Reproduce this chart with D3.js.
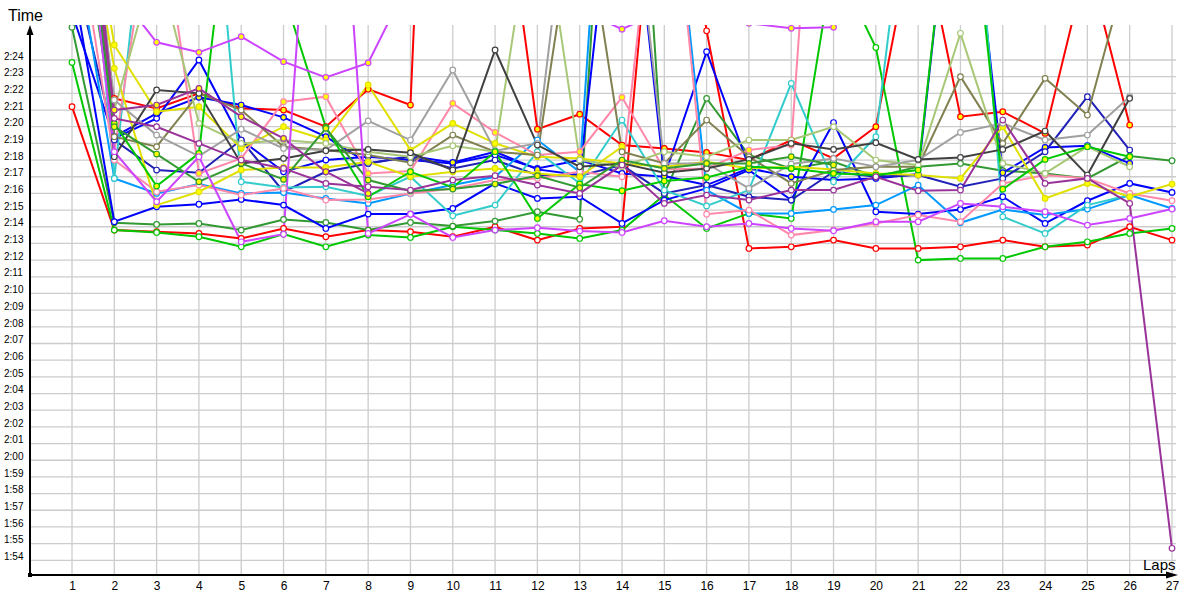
<!DOCTYPE html>
<html>
<head>
<meta charset="utf-8">
<script src="https://cdn.jsdelivr.net/npm/d3@7"></script>
<style>
  body { margin: 0; background: #fff; }
  svg { display: block; font-family: "Liberation Sans", Arial, sans-serif; }
  .grid line { stroke: #cccccc; stroke-width: 1.3; }
  .ylab { font-size: 10px; fill: #000; }
  .xlab { font-size: 12px; fill: #000; }
</style>
</head>
<body>
<svg width="1200" height="600"></svg>
<script>
// lap numbers and time ticks (seconds, 1:54 .. 2:24)
let laps = d3.range(1, 28);
let timeTicks = [114,115,116,117,118,119,120,121,122,123,124,125,126,127,128,129,130,131,132,133,134,135,136,137,138,139,140,141,142,143,144];
let timeLabels = ["1:54","1:55","1:56","1:57","1:58","1:59","2:00","2:01","2:02","2:03","2:04","2:05","2:06","2:07","2:08","2:09","2:10","2:11","2:12","2:13","2:14","2:15","2:16","2:17","2:18","2:19","2:20","2:21","2:22","2:23","2:24"];

// lap times in seconds, one per lap (null = no lap)
let red1 = [141.2,133.8,133.7,133.6,133.3,133.9,133.4,133.8,133.7,133.4,134.0,133.2,133.9,134.0,162,145.75,132.7,132.8,133.2,132.7,132.7,132.8,133.2,132.8,132.9,134.0,133.2];
let red2 = [155,141.7,141.1,142.0,141.1,141.0,140.0,142.25,141.3,200,158.6,139.85,140.75,138.9,138.7,138.46,138.0,139.2,138.1,140.0,153,140.6,140.9,139.6,150,140.1,null];
let green1 = [143.85,133.8,133.66,133.4,132.8,133.56,132.8,133.5,133.36,134.0,133.8,133.6,133.3,133.8,135.9,133.9,134.8,134.5,150,144.75,132.0,132.1,132.1,132.8,133.1,133.6,133.9];
let dkgreen1 = [145.96,134.24,134.14,134.2,133.8,134.44,134.26,133.8,134.26,134.04,134.34,134.9,134.45,175,136.0,141.7,138.3,137.5,137.9,137.0,137.6,137.8,137.36,137.2,136.9,138.24,137.96];
let blue1 = [149,134.3,135.2,135.35,135.64,135.3,133.9,134.76,134.76,135.1,136.6,135.7,135.8,134.2,135.6,136.3,137.4,135.6,140.25,134.9,134.76,135.04,135.8,134.2,135.56,136.6,136.06];
let blue2 = [146.8,139.3,140.5,144.0,139.2,137.3,138.0,138.2,138.0,137.8,138.3,137.5,138.0,137.2,137.0,144.5,137.6,null,null,null,null,null,null,null,null,null,null];
let blueY = [160,139.4,140.8,141.76,141.3,140.56,139.4,137.8,138.24,137.86,138.5,137.44,137.1,160,137.04,136.5,137.5,137.0,136.8,136.9,137.16,160,137.24,138.76,138.86,137.8,null];
let dkblue1 = [150,139.2,137.4,137.24,139.2,136.1,137.3,137.8,138.2,137.5,138.0,137.1,137.06,137.7,136.0,136.5,135.8,135.6,137.3,137.0,137.1,136.4,136.9,138.5,141.8,138.6,null];
let ltblue1 = [152,136.9,136.0,136.56,136.0,136.05,135.7,135.4,136.0,136.5,137.0,139.2,137.3,175,160,136.2,134.8,134.8,135.04,135.3,136.5,134.24,135.04,134.7,135.06,135.9,135.1];
let teal1 = [165,136.9,160,165,136.7,136.36,136.4,135.85,137.0,134.66,135.3,138.5,136.6,140.4,136.2,135.25,136.2,142.6,136.7,139.4,160,165,134.6,133.6,135.3,135.9,null];
let pink1 = [154,138.0,136.1,136.5,135.9,136.3,135.6,135.64,136.0,136.3,136.8,136.9,137.3,137.0,160,134.75,135.0,133.5,133.8,134.2,134.7,134.3,136.6,137.1,136.9,136.0,135.56];
let pinkY = [160,138.5,155,137.2,138.1,141.5,141.8,137.2,137.34,141.4,139.66,138.3,138.5,141.76,137.44,137.5,138.6,138.9,175,null,null,null,null,null,null,null,null];
let yellow1 = [160,144.9,140.9,141.2,138.7,140.0,139.2,142.5,138.6,140.2,139.0,138.2,138.1,137.8,137.6,137.9,137.5,137.6,137.44,137.2,137.1,136.9,140.0,135.7,136.6,135.8,136.56];
let yellow2 = [158,143.5,135.3,136.1,137.4,137.56,137.56,137.9,137.0,137.3,137.5,137.2,137.0,138.8,null,null,null,null,null,null,null,null,null,null,null,null,null];
let olive1 = [165,139.4,138.8,142.0,141.0,138.8,138.6,138.3,137.84,139.5,138.5,138.3,155,138.5,137.8,140.4,138.2,136.6,137.4,137.6,137.6,143.0,139.0,142.9,140.7,150,null];
let ltolive1 = [165,141.0,150,140.2,139.0,139.2,139.0,138.5,138.2,138.86,138.5,155,138.0,137.6,138.5,138.2,139.2,139.2,140.0,138.0,137.7,145.6,137.8,137.2,138.8,137.6,null];
let gray1 = [162,141.6,139.5,138.24,139.85,138.7,138.6,140.35,139.2,143.4,138.56,139.0,160,160,137.8,137.8,136.3,137.76,138.1,137.6,138.0,139.66,140.2,139.2,139.5,141.8,null];
let dkgray1 = [165,138.2,142.2,142.0,137.8,138.1,138.56,138.64,138.44,137.4,144.6,138.9,137.6,137.8,137.24,137.5,138.04,139.0,138.64,139.04,138.04,138.16,138.64,139.74,137.1,141.7,null];
let greenY = [156,140.2,136.44,138.4,160,148,139.96,135.8,137.3,136.36,138.5,134.5,136.56,136.16,136.74,136.96,137.6,137.5,137.2,137.1,137.4,160,136.25,138.04,138.8,138.2,null];
let dkgreenY = [160,140.0,138.36,136.7,137.8,136.84,139.9,136.8,136.14,136.26,136.56,137.06,136.34,138.0,137.5,137.8,137.8,138.2,137.7,null,null,null,null,null,null,null,null];
let purple1 = [165,140.5,140.0,139.0,138.0,137.5,136.6,136.4,136.2,136.8,137.06,136.5,136.0,137.7,135.4,135.9,135.6,136.2,136.2,137.0,136.16,136.2,140.4,136.6,136.9,135.4,114.72];
let purpleY = [160,141.0,141.3,142.3,140.6,139.3,137.3,136.0,null,null,null,null,null,null,null,null,null,null,null,null,null,null,null,null,null,null,null];
let violetY = [null,148.3,145.06,144.46,145.4,143.9,142.96,143.83,148.9,147.5,147,147.5,147,145.85,147,147,146.2,145.9,145.96,null,null,null,null,null,null,null,null];
let violet1 = [160,138.5,135.5,138.2,133.1,133.55,170,133.6,134.75,133.36,133.8,133.94,133.74,133.66,134.36,134.0,134.2,133.9,133.76,134.3,134.3,135.4,135.2,134.9,134.1,134.5,135.06];

// series: data, line colour, marker fill
let series = [
  [red1, "#ff0000", "#fff"], [red2, "#ff0000", "#ffff00"],
  [green1, "#00c800", "#fff"], [dkgreen1, "#339933", "#fff"],
  [blue1, "#0000ff", "#fff"], [blue2, "#0000ff", "#fff"], [blueY, "#0000ff", "#ffff00"],
  [dkblue1, "#2020b8", "#fff"], [ltblue1, "#0099ff", "#fff"], [teal1, "#33cccc", "#fff"],
  [pink1, "#ff88aa", "#fff"], [pinkY, "#ff88aa", "#ffff00"],
  [yellow1, "#e0e000", "#ffff00"], [yellow2, "#e0e000", "#ffff00"],
  [olive1, "#808050", "#fff"], [ltolive1, "#a8c878", "#fff"],
  [gray1, "#a0a0a0", "#fff"], [dkgray1, "#404040", "#fff"],
  [greenY, "#00c800", "#ffff00"], [dkgreenY, "#339933", "#ffff00"],
  [purple1, "#993399", "#fff"], [purpleY, "#993399", "#ffff00"],
  [violetY, "#cc44ff", "#ffff00"], [violet1, "#cc44ff", "#fff"]
];

let svg = d3.select("svg");
let plotLeft = 30, plotRight = 1178, plotTop = 25, plotBottom = 575;

let xScale = d3.scaleLinear().domain([1, 27]).range([72, 1172]);
let yScale = d3.scaleLinear().domain([114, 144]).range([560.3, 60]);

// grid
let grid = svg.append("g").attr("class", "grid");
grid.selectAll(".h").data(timeTicks).enter().append("line")
    .attr("x1", plotLeft).attr("x2", 1176)
    .attr("y1", d => yScale(d)).attr("y2", d => yScale(d));
grid.selectAll(".v").data(laps).enter().append("line")
    .attr("x1", d => xScale(d)).attr("x2", d => xScale(d))
    .attr("y1", plotTop).attr("y2", plotBottom);

// axes with labels
let y_axis = d3.axisLeft(yScale).tickValues(timeTicks)
    .tickFormat((d, i) => timeLabels[i]).tickSize(0).tickPadding(8);
let yg = svg.append("g").attr("transform", "translate(" + plotLeft + ",-4)").call(y_axis);
yg.select(".domain").remove();
yg.selectAll("text").attr("class", "ylab").attr("text-anchor", "start").attr("x", -26)
    .attr("font-family", "Liberation Sans, Arial, sans-serif");

let x_axis = d3.axisBottom(xScale).tickValues(laps).tickFormat(d3.format("d")).tickSize(0).tickPadding(6);
let xg = svg.append("g").attr("transform", "translate(0," + plotBottom + ")").call(x_axis);
xg.select(".domain").remove();
xg.selectAll("text").attr("class", "xlab").attr("font-family", "Liberation Sans, Arial, sans-serif");

// clip for the plot
svg.append("clipPath").attr("id", "plot").append("rect")
    .attr("x", plotLeft).attr("y", plotTop).attr("width", plotRight - plotLeft).attr("height", plotBottom - plotTop);

let lineGen = d3.line()
    .defined(d => d != null)
    .x((d, i) => xScale(laps[i]))
    .y(d => yScale(d));

let plot = svg.append("g").attr("clip-path", "url(#plot)");
series.forEach(function(s) {
    plot.append("path")
        .attr("d", lineGen(s[0]))
        .attr("fill", "none")
        .attr("stroke", s[1])
        .attr("stroke-width", 2);
});
series.forEach(function(s) {
    plot.selectAll(null).data(s[0].map((v, i) => [laps[i], v]).filter(p => p[1] != null))
        .enter().append("circle")
        .attr("cx", p => xScale(p[0]))
        .attr("cy", p => yScale(p[1]))
        .attr("r", 2.8)
        .attr("fill", s[2])
        .attr("stroke", s[1])
        .attr("stroke-width", 1.2);
});

// axis lines and arrows
svg.append("line").attr("x1", plotLeft).attr("x2", plotLeft).attr("y1", plotBottom).attr("y2", plotTop + 8)
    .attr("stroke", "#000").attr("stroke-width", 2);
svg.append("path").attr("d", "M" + (plotLeft - 3.5) + "," + (plotTop + 10) + "L" + plotLeft + "," + plotTop + "L" + (plotLeft + 3.5) + "," + (plotTop + 10) + "Z")
    .attr("fill", "#000");
svg.append("line").attr("x1", plotLeft).attr("x2", plotRight - 8).attr("y1", plotBottom).attr("y2", plotBottom)
    .attr("stroke", "#000").attr("stroke-width", 2);
svg.append("path").attr("d", "M" + (plotRight - 12) + "," + (plotBottom - 3.5) + "L" + plotRight + "," + plotBottom + "L" + (plotRight - 12) + "," + (plotBottom + 3.5) + "Z")
    .attr("fill", "#000");
svg.append("rect").attr("x", plotLeft - 2).attr("y", plotBottom - 2).attr("width", 4).attr("height", 4).attr("fill", "#000");

svg.append("text").attr("x", 8).attr("y", 21).attr("font-size", 16).text("Time");
svg.append("text").attr("x", 1143).attr("y", 570).attr("font-size", 15).text("Laps");
</script>
</body>
</html>
